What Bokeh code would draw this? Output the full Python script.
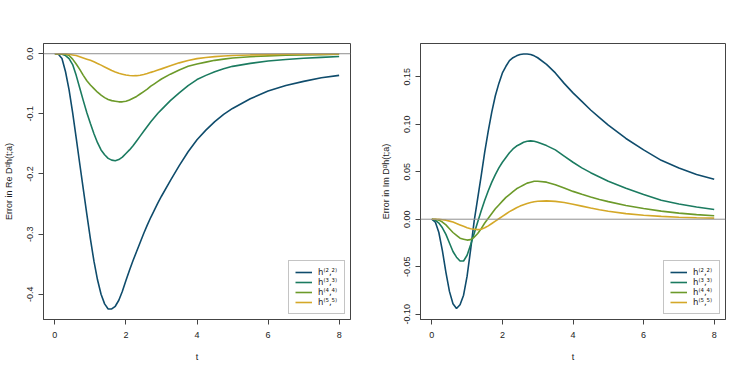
from bokeh.plotting import figure
from bokeh.models import Range1d, FixedTicker, Span, Legend, LegendItem, NumeralTickFormatter
from bokeh.layouts import row
from bokeh.embed import file_html
from bokeh.resources import INLINE

# ---- data ----
t = [0, 0.1, 0.2, 0.3, 0.4, 0.5, 0.6, 0.7, 0.8, 0.9,
     1.0, 1.1, 1.2, 1.3, 1.4, 1.5, 1.6, 1.7, 1.8, 1.9,
     2.0, 2.1, 2.2, 2.3, 2.4, 2.5, 2.6, 2.7, 2.8, 2.9,
     3.0, 3.25, 3.5, 3.75, 4.0, 4.25, 4.5, 4.75, 5.0,
     5.5, 6.0, 6.5, 7.0, 7.5, 8.0]

re_h22 = [0, -0.001, -0.008, -0.030, -0.060, -0.098, -0.140, -0.183, -0.225, -0.267,
          -0.308, -0.345, -0.376, -0.400, -0.416, -0.4245, -0.4245, -0.420, -0.410, -0.395,
          -0.377, -0.360, -0.344, -0.329, -0.314, -0.299, -0.285, -0.272, -0.260, -0.248,
          -0.237, -0.211, -0.186, -0.163, -0.143, -0.127, -0.113, -0.101, -0.091,
          -0.075, -0.062, -0.053, -0.046, -0.040, -0.036]
re_h33 = [0, 0, -0.001, -0.003, -0.008, -0.018, -0.036, -0.057, -0.078, -0.098,
          -0.116, -0.133, -0.148, -0.160, -0.168, -0.174, -0.177, -0.178, -0.176, -0.172,
          -0.166, -0.160, -0.153, -0.145, -0.137, -0.129, -0.121, -0.113, -0.106, -0.099,
          -0.093, -0.078, -0.065, -0.053, -0.043, -0.036, -0.030, -0.025, -0.021,
          -0.016, -0.012, -0.0095, -0.0075, -0.006, -0.0045]
re_h44 = [0, 0, 0, -0.001, -0.003, -0.009, -0.017, -0.026, -0.036, -0.045,
          -0.052, -0.058, -0.064, -0.069, -0.073, -0.076, -0.078, -0.079, -0.080, -0.080,
          -0.079, -0.077, -0.074, -0.071, -0.067, -0.063, -0.059, -0.054, -0.050, -0.046,
          -0.042, -0.034, -0.027, -0.021, -0.017, -0.014, -0.011, -0.009, -0.007,
          -0.005, -0.0035, -0.0025, -0.002, -0.0015, -0.001]
re_h55 = [0, 0, 0, 0, -0.001, -0.002, -0.003, -0.005, -0.007, -0.009,
          -0.011, -0.0135, -0.0163, -0.019, -0.022, -0.025, -0.028, -0.0305, -0.0325, -0.034,
          -0.0355, -0.0363, -0.0367, -0.0365, -0.0358, -0.0346, -0.033, -0.031, -0.0292, -0.0272,
          -0.0252, -0.0200, -0.0152, -0.0112, -0.0082, -0.0062, -0.0048, -0.0038, -0.003,
          -0.002, -0.0015, -0.001, -0.0008, -0.0006, -0.0005]

im_h22 = [0, -0.003, -0.014, -0.033, -0.056, -0.076, -0.089, -0.094, -0.090, -0.080,
          -0.060, -0.032, -0.002, 0.022, 0.046, 0.071, 0.093, 0.113, 0.130, 0.143,
          0.154, 0.161, 0.167, 0.170, 0.172, 0.1735, 0.174, 0.174, 0.1735, 0.172,
          0.170, 0.163, 0.154, 0.143, 0.133, 0.124, 0.115, 0.107, 0.099,
          0.085, 0.073, 0.062, 0.054, 0.047, 0.042]
im_h33 = [0, -0.001, -0.004, -0.009, -0.016, -0.025, -0.034, -0.040, -0.044, -0.044,
          -0.038, -0.027, -0.015, -0.003, 0.009, 0.020, 0.030, 0.039, 0.047, 0.054,
          0.060, 0.065, 0.070, 0.074, 0.077, 0.079, 0.081, 0.082, 0.0825, 0.082,
          0.081, 0.0775, 0.073, 0.0665, 0.060, 0.054, 0.049, 0.0445, 0.040,
          0.0325, 0.026, 0.020, 0.016, 0.0128, 0.0103]
im_h44 = [0, 0, -0.001, -0.003, -0.006, -0.010, -0.014, -0.017, -0.020, -0.021,
          -0.022, -0.0215, -0.019, -0.015, -0.010, -0.004, 0.001, 0.006, 0.011, 0.015,
          0.019, 0.023, 0.026, 0.029, 0.032, 0.034, 0.036, 0.038, 0.039, 0.040,
          0.040, 0.039, 0.0363, 0.0328, 0.0293, 0.0262, 0.0234, 0.0208, 0.0185,
          0.0145, 0.0112, 0.0085, 0.0064, 0.0048, 0.0036]
im_h55 = [0, 0, 0, -0.0005, -0.001, -0.002, -0.003, -0.0045, -0.006, -0.0075,
          -0.009, -0.010, -0.0105, -0.011, -0.0105, -0.009, -0.007, -0.0045, -0.002, 0.0005,
          0.003, 0.0055, 0.008, 0.010, 0.012, 0.0138, 0.0153, 0.0166, 0.0176, 0.0184,
          0.0189, 0.0193, 0.0188, 0.0176, 0.0158, 0.0138, 0.0118, 0.0099, 0.0084,
          0.0059, 0.0042, 0.003, 0.0021, 0.0015, 0.0011]

labels = ["h\u207d\u00b2,\u00b2\u207e", "h\u207d\u00b3,\u00b3\u207e",
          "h\u207d\u2074,\u2074\u207e", "h\u207d\u2075,\u2075\u207e"]
colors = ["#0F4C6C", "#1B7B60", "#6C9A2A", "#D4A828"]

x_ticks = [0, 2, 4, 6, 8]
re_ticks = [-0.4, -0.3, -0.2, -0.1, 0.0]
im_ticks = [-0.10, -0.05, 0.00, 0.05, 0.10, 0.15]

FONT = "Liberation Sans"
TXT = "#222222"
FRAME = "#444444"


def make_panel(series, ylabel, y_range, yticks, yfmt, width, left, right):
    p = figure(width=width, height=372, output_backend="svg", toolbar_location=None,
               x_range=Range1d(-0.32, 8.32), y_range=Range1d(*y_range),
               min_border_left=left, min_border_right=right,
               min_border_top=43, min_border_bottom=53)
    p.grid.visible = False
    p.outline_line_color = FRAME
    p.outline_line_width = 1
    p.outline_line_alpha = 1

    p.add_layout(Span(location=0, dimension="width", line_color="#8f8f8f", line_width=1))

    items = []
    for ys, lab, c in zip(series, labels, colors):
        r = p.line(t, ys, line_color=c, line_width=1.6)
        items.append(LegendItem(label=lab, renderers=[r]))

    leg = Legend(items=items, location="bottom_right", margin=5, padding=6,
                 spacing=0, glyph_width=17, glyph_height=10, label_height=10,
                 label_standoff=6, label_text_font="DejaVu Sans", label_text_font_size="8.5px",
                 label_text_color=TXT, border_line_color="#8a8a8a", border_line_width=1,
                 background_fill_color="white", background_fill_alpha=1)
    p.add_layout(leg)

    for ax in (p.xaxis[0], p.yaxis[0]):
        ax.axis_line_color = FRAME
        ax.major_tick_line_color = FRAME
        ax.major_tick_out = 5
        ax.major_tick_in = 0
        ax.minor_tick_line_color = None
        ax.major_label_text_font = FONT
        ax.major_label_text_font_size = "9px"
        ax.major_label_text_color = TXT
        ax.axis_label_text_font = FONT
        ax.axis_label_text_font_size = "9px"
        ax.axis_label_text_font_style = "normal"
        ax.axis_label_text_color = TXT

    p.xaxis.ticker = FixedTicker(ticks=x_ticks)
    p.xaxis.axis_label = "t"
    p.xaxis.major_label_standoff = 7
    p.xaxis.axis_label_standoff = 11

    p.yaxis.ticker = FixedTicker(ticks=yticks)
    p.yaxis.formatter = NumeralTickFormatter(format=yfmt)
    p.yaxis.major_label_orientation = "vertical"
    p.yaxis.major_label_standoff = 5
    p.yaxis.axis_label = ylabel
    p.yaxis.axis_label_standoff = 11
    return p


p1 = make_panel([re_h22, re_h33, re_h44, re_h55], "Error in Re D\u1d45h(t;a)",
                (-0.442, 0.017), re_ticks, "0.0", 377, 43, 27)
p2 = make_panel([im_h22, im_h33, im_h44, im_h55], "Error in Im D\u1d45h(t;a)",
                (-0.1056, 0.185), im_ticks, "0.00", 368, 41, 20)

p = row(p1, p2)
open("out.html", "w").write(file_html(p, INLINE))
